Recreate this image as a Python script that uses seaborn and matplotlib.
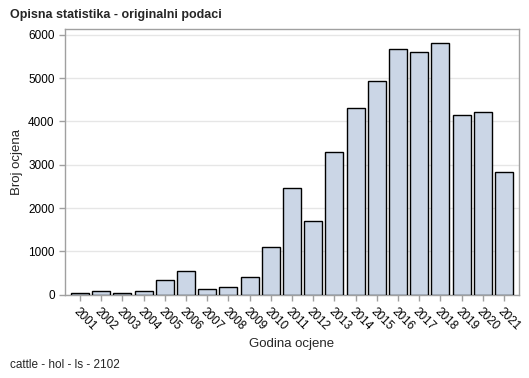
import seaborn as sns
import pandas as pd
import matplotlib.pyplot as plt

years = [str(y) for y in range(2001, 2022)]
counts = [40, 80, 40, 90, 345, 550, 140, 185, 410, 1100, 2470, 1700,
          3290, 4320, 4940, 5670, 5600, 5810, 4160, 4220, 2830]

df = pd.DataFrame({"Godina": years, "Broj": counts})

sns.set_style("white")
plt.rcParams['font.family'] = ['Liberation Sans', 'DejaVu Sans']

fig = plt.figure(figsize=(5.29, 3.78), dpi=100)
ax = fig.add_axes([0.123, 0.220, 0.858, 0.703])
sns.barplot(data=df, x="Godina", y="Broj", color="#cbd6e6", edgecolor="black",
            linewidth=1, width=0.85, saturation=1, ax=ax, zorder=3)

ax.set_xlim(-0.71, 20.71)
ax.set_ylim(0, 6130)
ax.set_yticks([0, 1000, 2000, 3000, 4000, 5000, 6000])
ax.yaxis.grid(True, color="#e6e6e6", linewidth=1, zorder=0)
ax.set_axisbelow(True)
for s in ax.spines.values():
    s.set_color("#a0a0a0")
    s.set_linewidth(1)
ax.tick_params(axis="both", which="both", length=4, width=1,
               labelsize=8.5, bottom=True, left=True)
ax.tick_params(axis="x", colors="#a0a0a0", labelcolor="black")
ax.tick_params(axis="y", colors="#a0a0a0", labelcolor="black")
plt.setp(ax.get_xticklabels(), rotation=-45, ha="left", rotation_mode="anchor")
ax.set_xlabel("Godina ocjene", fontsize=9.5, labelpad=4)
ax.set_ylabel("Broj ocjena", fontsize=9.5, labelpad=4)

fig.text(0.019, 0.960, "Opisna statistika - originalni podaci", fontsize=9,
         fontweight="bold", ha="left", va="center")
fig.text(0.019, 0.035, "cattle - hol - ls - 2102", fontsize=8.5, ha="left", va="center")

fig.savefig("out.png", dpi=100)
